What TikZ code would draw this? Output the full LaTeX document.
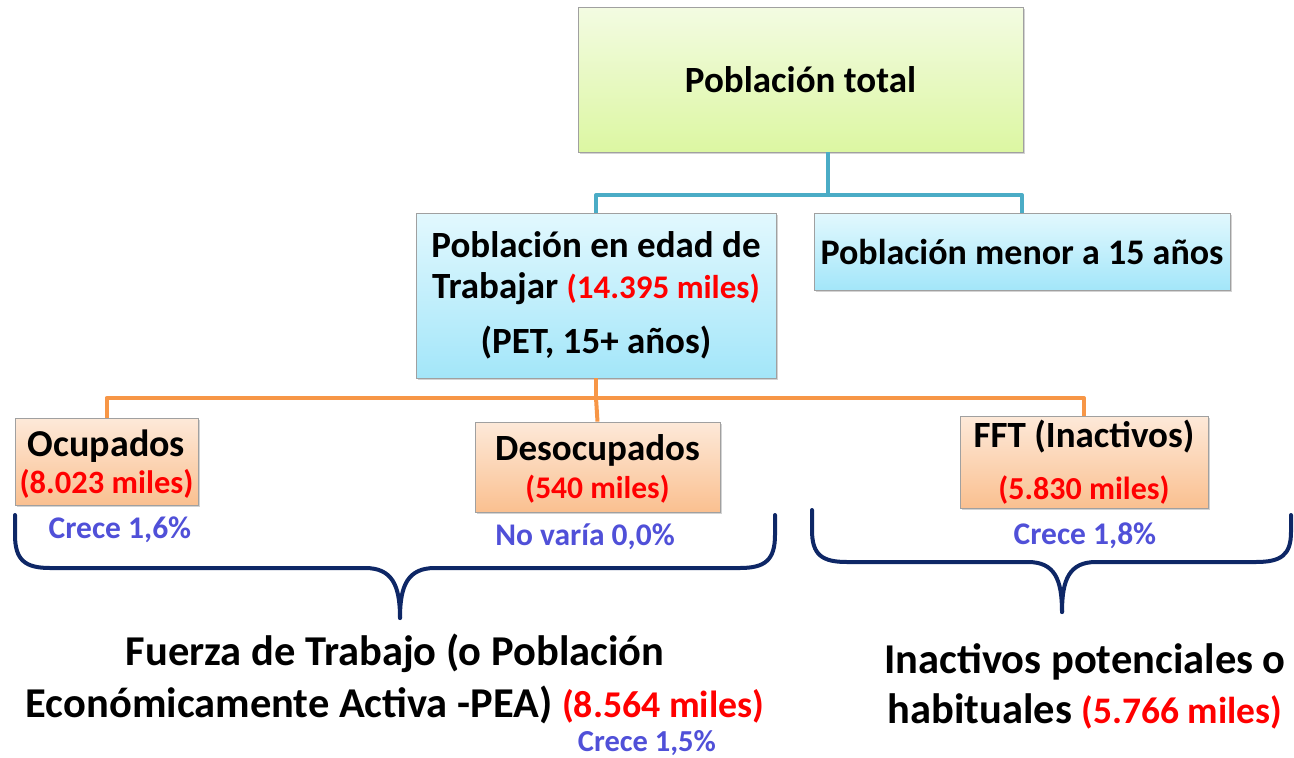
\documentclass[tikz,border=0pt]{standalone}
\usepackage{fontspec}
\setmainfont{Carlito}
\usetikzlibrary{shadows}
\definecolor{tealc}{HTML}{4BACC6}
\definecolor{orangec}{HTML}{F79646}
\definecolor{navyc}{HTML}{0E2766}
\definecolor{bluet}{HTML}{5050D8}
\definecolor{redt}{HTML}{FF0000}
\definecolor{boxline}{HTML}{A0A0A0}
\definecolor{gtop}{HTML}{F3FBE2}
\definecolor{gbot}{HTML}{DCF7A2}
\definecolor{ctop}{HTML}{E2F8FE}
\definecolor{cbot}{HTML}{A3E6F9}
\definecolor{otop}{HTML}{FDE9D9}
\definecolor{obot}{HTML}{FAC090}
\tikzset{
  base/.style={draw=boxline, line width=0.8pt, inner sep=0pt, align=center,
    font=\bfseries\fontsize{37}{41}\selectfont, text=black,
    drop shadow={shadow xshift=2pt, shadow yshift=-2pt, opacity=0.35, fill=gray}},
  greenbox/.style={base, top color=gtop, bottom color=gbot},
  cyanbox/.style={base, top color=ctop, bottom color=cbot},
  orangebox/.style={base, top color=otop, bottom color=obot},
  tline/.style={tealc, line width=4pt},
  oline/.style={orangec, line width=4pt},
  brace/.style={navyc, line width=4pt, line cap=round},
  note/.style={text=bluet, font=\bfseries\fontsize{31.5}{34}\selectfont, inner sep=0pt},
  big/.style={font=\bfseries\fontsize{42.5}{52}\selectfont, align=center, inner sep=0pt},
}
\newcommand{\rd}[2]{\textcolor{redt}{\fontsize{#1}{#1}\selectfont #2}}
\begin{document}
\begin{tikzpicture}[x=1pt,y=-1pt]
\useasboundingbox (0,0) rectangle (1294,758);
% boxes
\node[greenbox, minimum width=445pt, minimum height=145pt] (top) at (800.5,79.5) {Población total};
\node[cyanbox, minimum width=360pt, minimum height=165pt] (pet) at (596,295.5)
  {Población en edad de\\Trabajar \rd{33}{(14.395 miles)}\\[14pt](PET, 15+ años)};
\node[cyanbox, minimum width=416pt, minimum height=77pt, font=\bfseries\fontsize{36}{40}\selectfont] (menor) at (1022,251.5) {Población menor a 15 años};
\node[orangebox, minimum width=183pt, minimum height=87pt, font=\bfseries\fontsize{38}{37}\selectfont] (ocu) at (106.5,461.5)
  {\rule{0pt}{32pt}Ocupados\\\rd{32.5}{(8.023 miles)}};
\node[orangebox, minimum width=245pt, minimum height=90pt, font=\bfseries\fontsize{37}{38}\selectfont] (des) at (597.5,467)
  {\rule{0pt}{30pt}Desocupados\\\rd{31.5}{(540 miles)}};
\node[orangebox, minimum width=248pt, minimum height=92pt, font=\bfseries\fontsize{37}{38}\selectfont] (fft) at (1084,462)
  {FFT (Inactivos)\\[14pt]\rd{32}{(5.830 miles)}};
% connectors
\coordinate (tj) at (828,195);
\draw[tline] (tj |- top.south) -- (tj);
\draw[tline, line join=round] (pet.north) |- (tj) -| (menor.north);
\coordinate (oj) at (596,398);
\draw[oline] (pet.south) -- (oj);
\draw[oline, line join=round] (ocu.north) |- (oj) -| (fft.north);
\draw[oline] (oj) -- (des.north);
% notes
\node[note] (n1) at (120,530) {Crece 1,6\%};
\node[note] (n2) at (585,537) {No varía 0,0\%};
\node[note] (n3) at (1085,536) {Crece 1,8\%};
% braces
\coordinate (lb1) at (15,515);
\coordinate (lb2) at (775,515);
\coordinate (lbt) at (400,618);
\draw[brace] (lb1) -- (15,535) .. controls (15,560) and (25,568) .. (50,568) -- (365,568)
  .. controls (392,568) and (400,585) .. (lbt);
\draw[brace] (lb2) -- (775,535) .. controls (775,560) and (765,568) .. (740,568) -- (435,568)
  .. controls (408,568) and (400,585) .. (lbt);
\coordinate (rb1) at (812,510);
\coordinate (rb2) at (1291,515);
\coordinate (rbt) at (1062,612);
\draw[brace] (rb1) -- (812,530) .. controls (812,555) and (822,562) .. (847,562) -- (1028,562)
  .. controls (1055,562) and (1062,580) .. (rbt);
\draw[brace] (rb2) -- (1291,532) .. controls (1291,555) and (1281,562) .. (1256,562) -- (1096,562)
  .. controls (1069,562) and (1062,580) .. (rbt);
% bottom labels
\node[big] (pea) at (395,679) {Fuerza de Trabajo (o Población\\Económicamente Activa -PEA) \rd{37.8}{(8.564 miles)}};
\node[note, font=\bfseries\fontsize{30.5}{33}\selectfont] (n4) at (647,743) {Crece 1,5\%};
\node[big, font=\bfseries\fontsize{42.5}{50}\selectfont] (ina) at (1085,686) {Inactivos potenciales o\\habituales \rd{37.5}{(5.766 miles)}};
\end{tikzpicture}
\end{document}
